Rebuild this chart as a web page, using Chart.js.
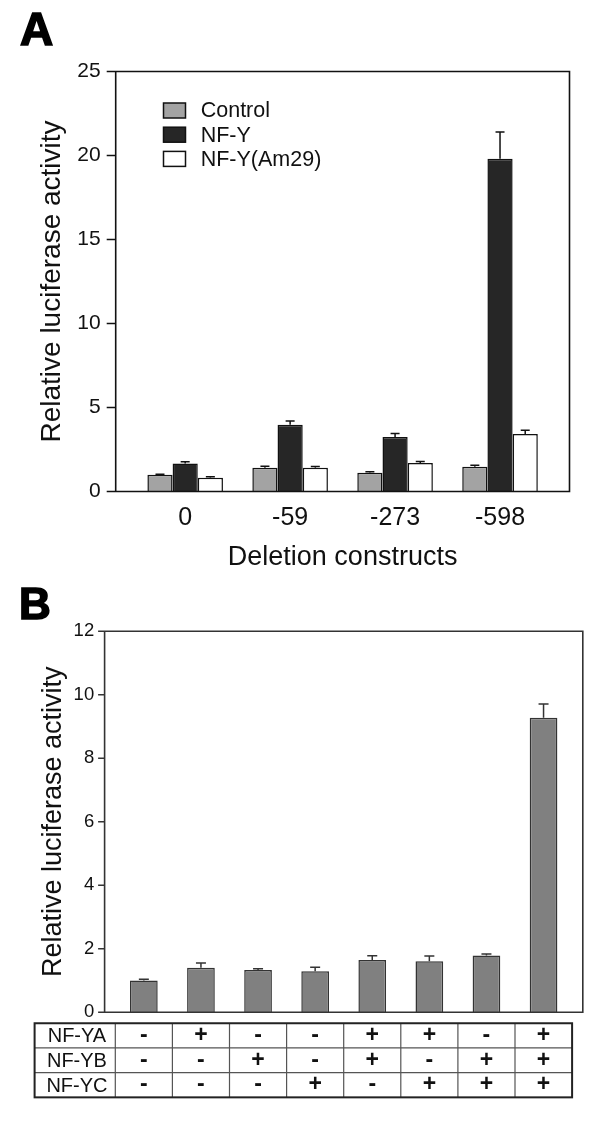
<!DOCTYPE html>
<html>
<head>
<meta charset="utf-8">
<script src="https://cdn.jsdelivr.net/npm/chart.js@4.4.1/dist/chart.umd.min.js"></script>
<style>
    body { margin: 0; background: #fff; }
    #wrap { position: relative; width: 600px; height: 1126px; }
    #chartA { position: absolute; left: 0; top: 0; }
    #chartB { position: absolute; left: 0; top: 580px; }
    .letter { position: absolute; font-family: 'Liberation Sans', Arial, sans-serif; font-weight: bold; line-height: 1; color: #000; -webkit-text-stroke: 1.6px #000; }
</style>
</head>
<body>
<div id="wrap">
    <canvas id="chartA" width="600" height="580"></canvas>
    <canvas id="chartB" width="600" height="546"></canvas>
    <div class="letter" style="left:20px; top:6px; font-size:46px;">A</div>
    <div class="letter" style="left:19px; top:582px; font-size:44px;">B</div>
</div>
<script>
// panel A data
let constructs = ['0', '-59', '-273', '-598'];
let controlVals = [1.0, 1.41, 1.12, 1.47];
let controlErr = [0.03, 0.1, 0.05, 0.09];
let nfyVals = [1.67, 3.98, 3.25, 19.8];
let nfyErr = [0.1, 0.22, 0.2, 1.6];
let am29Vals = [0.82, 1.41, 1.69, 3.43];
let am29Err = [0.06, 0.08, 0.1, 0.22];
let yTicksA = [0, 5, 10, 15, 20, 25];

// panel B data
let rowNames = ['NF-YA', 'NF-YB', 'NF-YC'];
let nfya = ['-', '+', '-', '-', '+', '+', '-', '+'];
let nfyb = ['-', '-', '+', '-', '+', '-', '+', '+'];
let nfyc = ['-', '-', '-', '+', '-', '+', '+', '+'];
let activityB = [1.0, 1.40, 1.33, 1.29, 1.65, 1.61, 1.79, 9.28];
let errB = [0.04, 0.15, 0.04, 0.13, 0.13, 0.16, 0.05, 0.43];
let yTicksB = [0, 2, 4, 6, 8, 10, 12];

Chart.defaults.font.family = "'Liberation Sans', Arial, sans-serif";
Chart.defaults.color = '#111';

// box round the plot, a bit wider than the chart area, with ticks on the left
let framePlugin = {
    id: 'frame',
    afterDatasetsDraw(chart, args, opts) {
        let ctx = chart.ctx, a = chart.chartArea, y = chart.scales.y;
        let l = a.left - opts.ext, r = a.right + opts.ext;
        ctx.save();
        ctx.strokeStyle = opts.color;
        ctx.lineWidth = opts.width;
        ctx.beginPath();
        ctx.rect(l, a.top, r - l, a.bottom - a.top);
        y.ticks.forEach(t => {
            let py = y.getPixelForValue(t.value);
            ctx.moveTo(l - opts.tick, py);
            ctx.lineTo(l, py);
        });
        ctx.stroke();
        ctx.restore();
    }
};

// upper error bars only
let errorBarPlugin = {
    id: 'errorBars',
    afterDatasetsDraw(chart, args, opts) {
        let ctx = chart.ctx, y = chart.scales.y;
        ctx.save();
        ctx.strokeStyle = opts.color;
        ctx.lineWidth = opts.width;
        chart.data.datasets.forEach((ds, di) => {
            chart.getDatasetMeta(di).data.forEach((bar, i) => {
                let top = y.getPixelForValue(ds.data[i] + ds.errors[i]);
                ctx.beginPath();
                ctx.moveTo(bar.x, bar.y);
                ctx.lineTo(bar.x, top);
                ctx.moveTo(bar.x - opts.cap, top);
                ctx.lineTo(bar.x + opts.cap, top);
                ctx.stroke();
            });
        });
        ctx.restore();
    }
};

// legend inside the plot, top left
let boxLegend = {
    id: 'boxLegend',
    afterDraw(chart, args, opts) {
        let ctx = chart.ctx, a = chart.chartArea;
        ctx.save();
        ctx.font = opts.size + 'px ' + Chart.defaults.font.family;
        ctx.textBaseline = 'middle';
        ctx.textAlign = 'left';
        chart.data.datasets.forEach((ds, i) => {
            let cy = a.top + opts.top + i * opts.gap;
            let bx = a.left + opts.left;
            ctx.fillStyle = ds.backgroundColor;
            ctx.fillRect(bx, cy - opts.boxH / 2, opts.boxW, opts.boxH);
            ctx.strokeStyle = ds.borderColor;
            ctx.lineWidth = 1.5;
            ctx.strokeRect(bx, cy - opts.boxH / 2, opts.boxW, opts.boxH);
            ctx.fillStyle = '#111';
            ctx.fillText(ds.label, a.left + opts.textLeft, cy + 1);
        });
        ctx.restore();
    }
};

// grid for the +/- table under panel B (signs are the x tick labels)
let tablePlugin = {
    id: 'signTable',
    afterDraw(chart, args, opts) {
        let ctx = chart.ctx, x = chart.scales.x, a = chart.chartArea;
        let lh = opts.rowH;
        let top = x.top + x.options.ticks.padding;
        let bottom = top + rowNames.length * lh;
        let n = x.ticks.length;
        let bounds = [a.left];
        for (let i = 1; i < n; i++) {
            bounds.push((x.getPixelForTick(i - 1) + x.getPixelForTick(i)) / 2);
        }
        ctx.save();
        ctx.strokeStyle = '#555';
        ctx.lineWidth = 1.2;
        ctx.beginPath();
        bounds.forEach(bx => { ctx.moveTo(bx, top); ctx.lineTo(bx, bottom); });
        for (let r = 1; r < rowNames.length; r++) {
            ctx.moveTo(opts.left, top + r * lh);
            ctx.lineTo(a.right, top + r * lh);
        }
        ctx.stroke();
        ctx.strokeStyle = '#222';
        ctx.lineWidth = 2;
        ctx.strokeRect(opts.left, top, a.right - opts.left, bottom - top);
        ctx.fillStyle = '#111';
        ctx.font = opts.size + 'px ' + Chart.defaults.font.family;
        ctx.textAlign = 'center';
        ctx.textBaseline = 'middle';
        rowNames.forEach((name, r) => {
            ctx.fillText(name, (opts.left + a.left) / 2 + 2, top + (r + 0.5) * lh + 1);
        });
        ctx.restore();
    }
};

// A
let chartA = new Chart(document.getElementById('chartA'), {
    type: 'bar',
    data: {
        labels: constructs,
        datasets: [
            { label: 'Control', data: controlVals, errors: controlErr, backgroundColor: '#a3a3a3', borderColor: '#111', borderWidth: 1.5 },
            { label: 'NF-Y', data: nfyVals, errors: nfyErr, backgroundColor: '#262626', borderColor: '#111', borderWidth: 1.5 },
            { label: 'NF-Y(Am29)', data: am29Vals, errors: am29Err, backgroundColor: '#ffffff', borderColor: '#111', borderWidth: 1.5 }
        ]
    },
    options: {
        responsive: false,
        animation: false,
        layout: { padding: { top: 71.5, right: 47.5, bottom: 0, left: 0 } },
        datasets: { bar: { barPercentage: 1, categoryPercentage: 0.72 } },
        scales: {
            x: {
                afterFit: s => { s.height = 88.5; },
                grid: { display: false, drawTicks: false },
                border: { display: false },
                ticks: { padding: 11.5, font: { size: 25 } },
                title: { display: true, text: 'Deletion constructs', font: { size: 27 }, padding: { top: 0, bottom: 5.8 } }
            },
            y: {
                min: 0,
                max: 25,
                afterBuildTicks: s => { s.ticks = yTicksA.map(v => ({ value: v })); },
                afterFit: s => { s.width = 132.7; },
                grid: { display: false, drawTicks: false },
                border: { display: false },
                ticks: { padding: 32, font: { size: 21 } },
                title: { display: true, text: 'Relative luciferase activity', font: { size: 28 }, padding: { top: 35.7, bottom: 0 } }
            }
        },
        plugins: {
            legend: { display: false },
            tooltip: { enabled: false },
            frame: { ext: 17, tick: 9, color: '#111', width: 1.6 },
            errorBars: { cap: 4.5, color: '#111', width: 1.5 },
            boxLegend: { left: 30.8, top: 39, gap: 24.2, boxW: 22, boxH: 15, textLeft: 68, size: 21.5 }
        }
    },
    plugins: [framePlugin, errorBarPlugin, boxLegend]
});

// B
let chartB = new Chart(document.getElementById('chartB'), {
    type: 'bar',
    data: {
        labels: nfya.map((s, i) => [s, nfyb[i], nfyc[i]]),
        datasets: [
            { label: 'Relative luciferase activity', data: activityB, errors: errB, backgroundColor: '#808080', borderColor: '#333', borderWidth: 1.5 }
        ]
    },
    options: {
        responsive: false,
        animation: false,
        layout: { padding: { top: 51.3, right: 27.9, bottom: 0, left: 0 } },
        datasets: { bar: { barPercentage: 0.485, categoryPercentage: 1 } },
        scales: {
            x: {
                afterFit: s => { s.height = 113.7; },
                grid: { display: false, drawTicks: false },
                border: { display: false },
                ticks: { padding: 10.95, autoSkip: false, maxRotation: 0, font: { size: 23, weight: 'bold', lineHeight: '24.7px' } }
            },
            y: {
                min: 0,
                max: 12,
                afterBuildTicks: s => { s.ticks = yTicksB.map(v => ({ value: v })); },
                afterFit: s => { s.width = 115.3; },
                grid: { display: false, drawTicks: false },
                border: { display: false },
                ticks: { padding: 21.1, font: { size: 18.5 } },
                title: { display: true, text: 'Relative luciferase activity', font: { size: 27 }, padding: { top: 37.8, bottom: 0 } }
            }
        },
        plugins: {
            legend: { display: false },
            tooltip: { enabled: false },
            frame: { ext: 10.7, tick: 6.5, color: '#333', width: 1.6 },
            errorBars: { cap: 5, color: '#333', width: 1.5 },
            signTable: { left: 34.6, rowH: 24.7, size: 20 }
        }
    },
    plugins: [framePlugin, errorBarPlugin, tablePlugin]
});
</script>
</body>
</html>
